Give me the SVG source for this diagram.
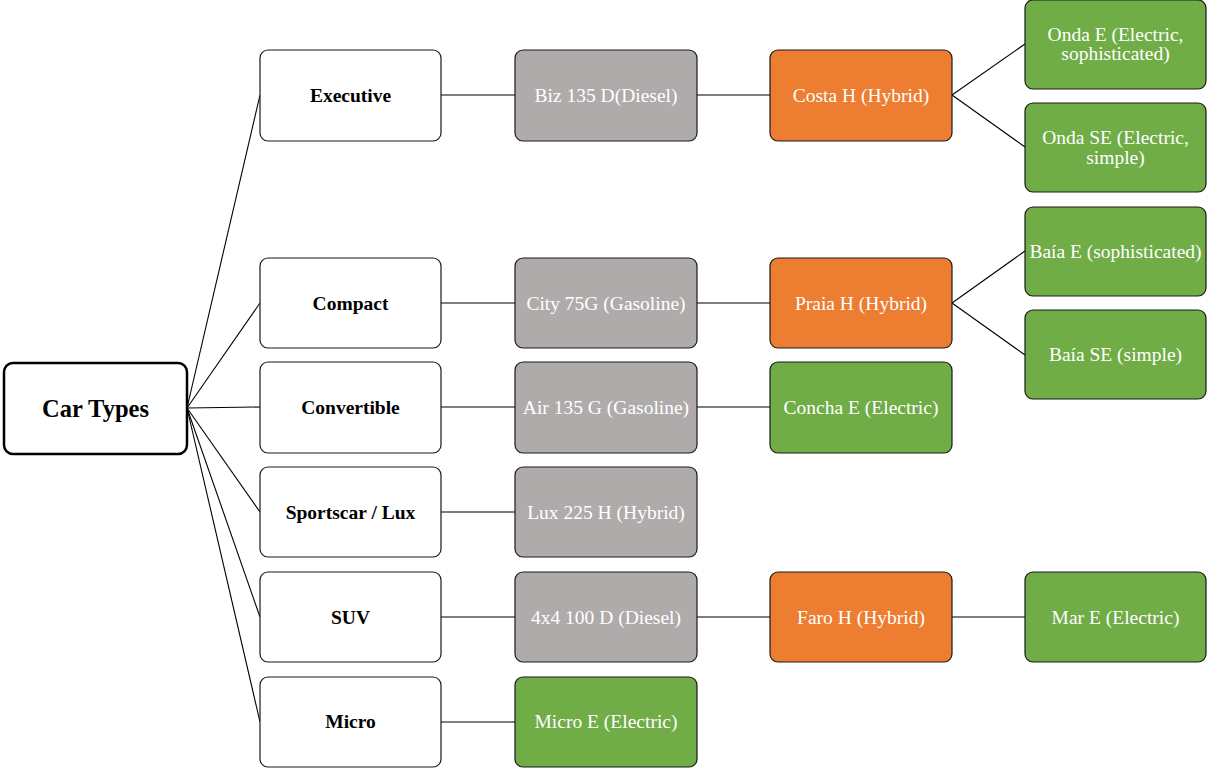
<svg xmlns="http://www.w3.org/2000/svg" width="1207" height="769" viewBox="0 0 1207 769">
<style>
.n rect{stroke:#1a1a1a;stroke-width:1.2}
.w rect{fill:#fff}
.g rect{fill:#AFABAB}
.o rect{fill:#ED7D31}
.e rect{fill:#70AD47}
text{font-family:"Liberation Serif","Times New Roman",serif;font-size:19.5px;text-anchor:middle;dominant-baseline:central}
.w text{font-weight:bold;fill:#000}
.g text,.o text,.e text{fill:#fff}
#edges line{stroke:#000;stroke-width:1.1}
</style>
<rect width="1207" height="769" fill="#fff"/>
<g id="edges">
<line x1="187" y1="408" x2="260" y2="95"/>
<line x1="187" y1="408" x2="260" y2="303"/>
<line x1="187" y1="408" x2="260" y2="407"/>
<line x1="187" y1="408" x2="260" y2="512"/>
<line x1="187" y1="408" x2="260" y2="617"/>
<line x1="187" y1="408" x2="260" y2="722"/>
<line x1="441" y1="95" x2="515" y2="95"/>
<line x1="441" y1="303" x2="515" y2="303"/>
<line x1="441" y1="407" x2="515" y2="407"/>
<line x1="441" y1="512" x2="515" y2="512"/>
<line x1="441" y1="617" x2="515" y2="617"/>
<line x1="441" y1="722" x2="515" y2="722"/>
<line x1="697" y1="95" x2="770" y2="95"/>
<line x1="697" y1="303" x2="770" y2="303"/>
<line x1="697" y1="407" x2="770" y2="407"/>
<line x1="697" y1="617" x2="770" y2="617"/>
<line x1="952" y1="95" x2="1025" y2="44"/>
<line x1="952" y1="95" x2="1025" y2="147"/>
<line x1="952" y1="303" x2="1025" y2="251"/>
<line x1="952" y1="303" x2="1025" y2="355"/>
<line x1="952" y1="617" x2="1025" y2="617"/>
</g>
<g id="root" class="n w"><rect x="4" y="363" width="183" height="91" rx="9" style="stroke-width:2.5;stroke:#000"/><text x="95.5" y="408.5" style="font-size:24.5px">Car Types</text></g>
<g id="executive" class="n w"><rect x="260" y="50" width="181" height="91" rx="8"/><text x="350.5" y="95">Executive</text></g>
<g id="compact" class="n w"><rect x="260" y="258" width="181" height="90" rx="8"/><text x="350.5" y="303">Compact</text></g>
<g id="convertible" class="n w"><rect x="260" y="362" width="181" height="91" rx="8"/><text x="350.5" y="407">Convertible</text></g>
<g id="sportscar" class="n w"><rect x="260" y="467" width="181" height="90" rx="8"/><text x="350.5" y="512">Sportscar / Lux</text></g>
<g id="suv" class="n w"><rect x="260" y="572" width="181" height="90" rx="8"/><text x="350.5" y="617">SUV</text></g>
<g id="micro" class="n w"><rect x="260" y="677" width="181" height="90" rx="8"/><text x="350.5" y="721">Micro</text></g>
<g id="biz" class="n g"><rect x="515" y="50" width="182" height="91" rx="8"/><text x="606" y="95">Biz 135 D(Diesel)</text></g>
<g id="city" class="n g"><rect x="515" y="258" width="182" height="90" rx="8"/><text x="606" y="303">City 75G (Gasoline)</text></g>
<g id="air" class="n g"><rect x="515" y="362" width="182" height="91" rx="8"/><text x="606" y="407">Air 135 G (Gasoline)</text></g>
<g id="lux" class="n g"><rect x="515" y="467" width="182" height="90" rx="8"/><text x="606" y="512">Lux 225 H (Hybrid)</text></g>
<g id="x4" class="n g"><rect x="515" y="572" width="182" height="90" rx="8"/><text x="606" y="617">4x4 100 D (Diesel)</text></g>
<g id="microe" class="n e"><rect x="515" y="677" width="182" height="90" rx="8"/><text x="606" y="721">Micro E (Electric)</text></g>
<g id="costa" class="n o"><rect x="770" y="50" width="182" height="91" rx="8"/><text x="861" y="95">Costa H (Hybrid)</text></g>
<g id="praia" class="n o"><rect x="770" y="258" width="182" height="90" rx="8"/><text x="861" y="303">Praia H (Hybrid)</text></g>
<g id="concha" class="n e"><rect x="770" y="362" width="182" height="91" rx="8"/><text x="861" y="407">Concha E (Electric)</text></g>
<g id="faro" class="n o"><rect x="770" y="572" width="182" height="90" rx="8"/><text x="861" y="617">Faro H (Hybrid)</text></g>
<g id="ondae" class="n e"><rect x="1025" y="0" width="181" height="89" rx="8"/><text x="1115.5" y="34">Onda E (Electric,</text><text x="1115.5" y="53">sophisticated)</text></g>
<g id="ondase" class="n e"><rect x="1025" y="103" width="181" height="89" rx="8"/><text x="1115.5" y="137">Onda SE (Electric,</text><text x="1115.5" y="157">simple)</text></g>
<g id="baiae" class="n e"><rect x="1025" y="207" width="181" height="89" rx="8"/><text x="1115.5" y="251">Baía E (sophisticated)</text></g>
<g id="baiase" class="n e"><rect x="1025" y="310" width="181" height="89" rx="8"/><text x="1115.5" y="354">Baía SE (simple)</text></g>
<g id="mare" class="n e"><rect x="1025" y="572" width="181" height="90" rx="8"/><text x="1115.5" y="617">Mar E (Electric)</text></g>
</svg>
